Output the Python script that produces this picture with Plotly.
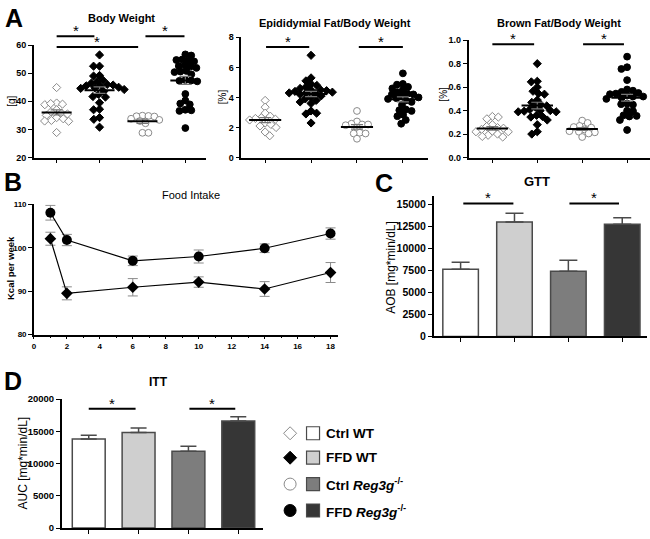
import numpy as np
import plotly.graph_objects as go

W, H = 650, 539
FONT = "Liberation Sans, Arial, sans-serif"

# ---------------- DATA ----------------
groups = ["Ctrl WT", "FFD WT", "Ctrl Reg3g-/-", "FFD Reg3g-/-"]

bw_ctrl_wt = [44.9, 39.4, 39.0, 38.8, 39.2, 37.0, 36.3, 35.8, 35.5, 35.0, 34.2, 33.8, 33.2, 32.9, 33.0, 28.9]
bw_ffd_wt = [56.5, 52.5, 52.5, 49.2, 49.0, 47.5, 47.0, 46.5, 46.0, 45.8, 45.5, 45.3, 45.0, 44.8, 44.6, 44.2,
             43.5, 42.5, 41.7, 41.5, 39.5, 37.2, 37.0, 34.2, 33.6, 30.8]
bw_ctrl_reg = [34.9, 34.8, 34.7, 34.6, 33.8, 33.4, 33.0, 32.2, 28.8, 28.8]
bw_ffd_reg = [56.7, 56.3, 54.9, 54.7, 54.5, 54.2, 52.8, 52.6, 52.4, 51.9, 50.8, 50.6, 50.4, 49.6, 47.6, 47.4,
              47.3, 47.1, 42.6, 40.3, 39.2, 38.9, 37.0, 36.6, 36.8, 30.5]

ep_ctrl_wt = [3.8, 3.35, 2.95, 2.75, 2.65, 2.6, 2.55, 2.5, 2.3, 2.2, 2.1, 2.0, 1.7, 1.45]
ep_ffd_wt = [6.8, 5.3, 5.1, 4.9, 4.8, 4.7, 4.6, 4.5, 4.5, 4.45, 4.4, 4.35, 4.3, 4.3, 4.25, 4.2, 4.1, 4.0,
             3.9, 3.8, 3.7, 3.6, 3.1, 2.95, 2.9, 2.3]
ep_ctrl_reg = [3.1, 2.4, 2.25, 2.2, 2.2, 2.15, 2.0, 1.65, 1.6, 1.6, 1.25]
ep_ffd_reg = [5.6, 4.9, 4.85, 4.7, 4.6, 4.5, 4.35, 4.25, 4.2, 4.2, 4.1, 4.0, 3.95, 3.9, 3.8, 3.7, 3.5,
              3.2, 3.15, 3.1, 2.85, 2.75, 2.5, 2.25]

br_ctrl_wt = [0.35, 0.345, 0.33, 0.28, 0.265, 0.255, 0.25, 0.24, 0.225, 0.22, 0.22, 0.2, 0.19, 0.18, 0.175]
br_ffd_wt = [0.8, 0.65, 0.645, 0.6, 0.565, 0.545, 0.54, 0.49, 0.47, 0.45, 0.44, 0.43, 0.41, 0.4, 0.4,
             0.395, 0.39, 0.39, 0.36, 0.35, 0.345, 0.32, 0.28, 0.22, 0.2]
br_ctrl_reg = [0.315, 0.295, 0.27, 0.26, 0.255, 0.24, 0.225, 0.22, 0.215, 0.205, 0.175]
br_ffd_reg = [0.86, 0.77, 0.755, 0.66, 0.58, 0.57, 0.56, 0.55, 0.545, 0.54, 0.53, 0.52, 0.52, 0.51, 0.5,
              0.46, 0.455, 0.45, 0.4, 0.395, 0.36, 0.355, 0.35, 0.32, 0.235]

weeks = [1, 2, 6, 10, 14, 18]
food_ffd_wt = [102.1, 89.5, 90.9, 92.1, 90.5, 94.3]
food_ffd_wt_err = [1.5, 1.5, 2.0, 1.2, 1.7, 2.3]
food_ffd_reg = [108.1, 101.8, 97.0, 98.0, 99.9, 103.3]
food_ffd_reg_err = [1.7, 1.3, 1.1, 1.5, 1.0, 1.3]

gtt_mean = [7650, 13000, 7400, 12750]
gtt_sem = [780, 1000, 1270, 730]
itt_mean = [13800, 14800, 11900, 16600]
itt_sem = [600, 700, 800, 650]

bar_colors = ["#ffffff", "#cfcfcf", "#7d7d7d", "#363636"]

# ---------------- LAYOUT HELPERS ----------------
def px(x):
    return x / W


def py(y):
    return 1 - y / H


panels = {
    "1": dict(xd=(32, 205), yd=(40, 155), xr=[-0.53, 3.49], yr=[20, 60]),
    "2": dict(xd=(240, 427), yd=(32, 155), xr=[-0.52, 3.54], yr=[0, 8]),
    "3": dict(xd=(468, 650), yd=(35, 155), xr=[-0.53, 3.51], yr=[0, 1]),
    "4": dict(xd=(32, 337), yd=(203, 336), xr=[0, 18.45], yr=[80, 110]),
    "5": dict(xd=(433, 647), yd=(194, 338), xr=[-0.5, 3.46], yr=[0, 16000]),
    "6": dict(xd=(60, 262), yd=(402, 534), xr=[-0.54, 3.5], yr=[0, 20000]),
}

base_axis = dict(showline=True, linecolor="black", linewidth=1.5, ticks="outside", ticklen=4,
                 tickwidth=1.3, tickcolor="black", showgrid=False, zeroline=False, fixedrange=True)

layout_axes = {}
for k, p in panels.items():
    xname = "xaxis" if k == "1" else "xaxis" + k
    yname = "yaxis" if k == "1" else "yaxis" + k
    layout_axes[xname] = dict(base_axis, domain=[px(p["xd"][0]), px(p["xd"][1])], range=p["xr"],
                              anchor="y" if k == "1" else "y" + k)
    layout_axes[yname] = dict(base_axis, domain=[py(p["yd"][1]), py(p["yd"][0])], range=p["yr"],
                              anchor="x" if k == "1" else "x" + k)

cat_x = dict(tickvals=[0, 1, 2, 3], showticklabels=False)
for k in ["1", "2", "3", "5", "6"]:
    xname = "xaxis" if k == "1" else "xaxis" + k
    layout_axes[xname].update(cat_x)

tf = lambda s: dict(family=FONT, size=s, color="black", weight="bold")
layout_axes["yaxis"].update(tickvals=[20, 30, 40, 50, 60], tickfont=tf(9))
layout_axes["yaxis2"].update(tickvals=[0, 2, 4, 6, 8], tickfont=tf(9))
layout_axes["yaxis3"].update(tickvals=[0, 0.2, 0.4, 0.6, 0.8, 1.0], tickformat=".1f", tickfont=tf(9))
layout_axes["yaxis4"].update(tickvals=[80, 90, 100, 110], tickfont=tf(8))
layout_axes["xaxis4"].update(tickvals=list(range(0, 19, 2)), tickfont=tf(8), ticklen=3,
                             minor=dict(dtick=1, ticklen=2, tickwidth=1, tickcolor="black", ticks="outside"))
layout_axes["yaxis5"].update(tickvals=list(range(0, 15001, 2500)), tickformat="d", tickfont=tf(10.5))
layout_axes["yaxis6"].update(tickvals=list(range(0, 20001, 5000)), tickformat="d", tickfont=tf(9.5))

layout_axes["xaxis7"] = dict(domain=[px(280), px(340)], range=[280, 340], visible=False, anchor="y7",
                             fixedrange=True)
layout_axes["yaxis7"] = dict(domain=[py(529), py(425)], range=[529, 425], visible=False, anchor="x7",
                             fixedrange=True)

fig = go.Figure()


def ax_ids(k):
    return ("x" if k == "1" else "x" + k), ("y" if k == "1" else "y" + k)


def swarm(vals, d, ky, kx):
    ys = np.asarray(vals, dtype=float) * ky
    order = np.argsort(-ys, kind="stable")
    placed = []
    xs = np.zeros(len(ys))
    for i in order:
        y = ys[i]
        ints = []
        for (qx, qy) in placed:
            dy = abs(qy - y)
            if dy < d:
                h = np.sqrt(d * d - dy * dy)
                ints.append((qx - h, qx + h))
        cands = [0.0] + [a for a, b in ints] + [b for a, b in ints]
        cands.sort(key=lambda c: (round(abs(c), 6), -c if len(placed) % 2 else c))
        for c in cands:
            if all(not (a + 1e-6 < c < b - 1e-6) for a, b in ints):
                xs[i] = c
                break
        placed.append((xs[i], y))
    return xs / kx


dot_sets = {
    "1": [bw_ctrl_wt, bw_ffd_wt, bw_ctrl_reg, bw_ffd_reg],
    "2": [ep_ctrl_wt, ep_ffd_wt, ep_ctrl_reg, ep_ffd_reg],
    "3": [br_ctrl_wt, br_ffd_wt, br_ctrl_reg, br_ffd_reg],
}
sym = ["diamond", "diamond", "circle", "circle"]
fillc = ["white", "black", "white", "black"]
linec = ["#8a8a8a", "black", "#8a8a8a", "black"]
msize = [6.3, 6.3, 6.8, 6.8]

for k, sets in dot_sets.items():
    p = panels[k]
    xa, ya = ax_ids(k)
    ky = (p["yd"][1] - p["yd"][0]) / (p["yr"][1] - p["yr"][0])
    kx = (p["xd"][1] - p["xd"][0]) / (p["xr"][1] - p["xr"][0])
    for gi, vals in enumerate(sets):
        offs = swarm(vals, 6.0, ky, kx)
        fig.add_trace(go.Scatter(x=gi + offs, y=vals, mode="markers", xaxis=xa, yaxis=ya, showlegend=False,
                                 marker=dict(symbol=sym[gi], size=msize[gi], color=fillc[gi],
                                             line=dict(color=linec[gi], width=1)), hoverinfo="skip"))
    for gi, vals in enumerate(sets):
        m = float(np.mean(vals))
        sem = float(np.std(vals, ddof=1) / np.sqrt(len(vals)))
        fig.add_trace(go.Scatter(x=[gi], y=[m], mode="markers", xaxis=xa, yaxis=ya, showlegend=False,
                                 marker=dict(size=1, color="rgba(0,0,0,0)"),
                                 error_y=dict(type="data", array=[sem], color="#777777", thickness=1.2, width=6),
                                 hoverinfo="skip"))
        fig.add_trace(go.Scatter(x=[gi - 0.35, gi + 0.35], y=[m, m], mode="lines", xaxis=xa, yaxis=ya,
                                 showlegend=False, line=dict(color="black", width=2), hoverinfo="skip"))

# ---- B: food intake ----
fig.add_trace(go.Scatter(x=weeks, y=food_ffd_reg, mode="lines+markers", xaxis="x4", yaxis="y4", showlegend=False,
                         line=dict(color="black", width=1.2), marker=dict(symbol="circle", size=10, color="black"),
                         error_y=dict(type="data", array=food_ffd_reg_err, color="#8a8a8a", thickness=1, width=5)))
fig.add_trace(go.Scatter(x=weeks, y=food_ffd_wt, mode="lines+markers", xaxis="x4", yaxis="y4", showlegend=False,
                         line=dict(color="black", width=1.2), marker=dict(symbol="diamond", size=9, color="black"),
                         error_y=dict(type="data", array=food_ffd_wt_err, color="#8a8a8a", thickness=1, width=5)))

# ---- C, D: bars ----
for k, mean, sem, cap in [("5", gtt_mean, gtt_sem, 9), ("6", itt_mean, itt_sem, 8)]:
    xa, ya = ax_ids(k)
    fig.add_trace(go.Bar(x=[0, 1, 2, 3], y=mean, xaxis=xa, yaxis=ya, width=0.66, showlegend=False,
                         marker=dict(color=bar_colors, line=dict(color="#4a4a4a", width=1.5)),
                         error_y=dict(type="data", array=sem, arrayminus=[0] * 4, symmetric=False,
                                      color="#4a4a4a", thickness=1.5, width=cap)))

# ---- legend ----
leg_rows = [437, 462, 489, 516]
leg_text = ["<b>Ctrl WT</b>", "<b>FFD WT</b>", "<b>Ctrl <i>Reg3g</i><sup>-/-</sup></b>",
            "<b>FFD <i>Reg3g</i><sup>-/-</sup></b>"]
leg_sym = [("diamond", "white", "#8a8a8a", 10), ("diamond", "black", "black", 10),
           ("circle", "white", "#8a8a8a", 12), ("circle", "black", "black", 12)]
for r, yy in enumerate(leg_rows):
    s, fc, lc, sz = leg_sym[r]
    fig.add_trace(go.Scatter(x=[289], y=[yy], mode="markers", xaxis="x7", yaxis="y7", showlegend=False,
                             marker=dict(symbol=s, size=sz, color=fc, line=dict(color=lc, width=1))))
    fig.add_trace(go.Scatter(x=[312], y=[yy], mode="markers", xaxis="x7", yaxis="y7", showlegend=False,
                             marker=dict(symbol="square", size=13, color=bar_colors[r],
                                         line=dict(color="#4a4a4a", width=1.2))))

annotations = []


def text(x, y, s, size, bold=False, angle=0, anchor="center"):
    annotations.append(dict(x=px(x), y=py(y), xref="paper", yref="paper", text=s, showarrow=False,
                            textangle=angle, xanchor=anchor, yanchor="middle", borderpad=0,
                            font=dict(family=FONT, size=size, color="black", weight="bold" if bold else "normal")))


for r, yy in enumerate(leg_rows):
    text(324, yy, leg_text[r], 13.5, anchor="left")

text(12, 12, "<b>A</b>", 25)
text(11, 180, "<b>B</b>", 25)
text(383, 181, "<b>C</b>", 25)
text(11, 384, "<b>D</b>", 25)

text(120, 12, "<b>Body Weight</b>", 11)
text(334, 17, "<b>Epididymial Fat/Body Weight</b>", 11)
text(559, 17, "<b>Brown Fat/Body Weight</b>", 11)
text(190, 193, "Food Intake", 11)
text(537, 180, "<b>GTT</b>", 13)
text(157, 385, "<b>ITT</b>", 12)

text(10, 97, "[g]", 10, angle=-90)
text(222, 93, "[%]", 10, angle=-90)
text(443, 90, "[%]", 10, angle=-90)
text(8, 268, "<b>Kcal per week</b>", 9.5, angle=-90)
text(390, 267, "AOB [mg*min/dL]", 12, angle=-90)
text(21, 467, "AUC [mg*min/dL]", 12, angle=-90)

sig_bars = [("1", 0.0, 0.88, 31), ("1", 0.0, 1.9, 42), ("1", 2.07, 2.98, 31),
            ("2", 0.02, 0.96, 42), ("2", 2.04, 3.0, 42),
            ("3", 0.0, 0.93, 39), ("3", 2.02, 2.93, 39),
            ("5", 0.05, 0.98, 202), ("5", 2.02, 2.94, 202),
            ("6", 0.0, 0.94, 412), ("6", 2.02, 2.94, 412)]
shapes = []
for k, x0, x1, yy in sig_bars:
    xa, _ = ax_ids(k)
    shapes.append(dict(type="line", xref=xa, yref="paper", x0=x0, x1=x1, y0=py(yy), y1=py(yy),
                       line=dict(color="black", width=2)))
    annotations.append(dict(x=(x0 + x1) / 2, y=py(yy + 4.0), xref=xa, yref="paper", text="*", showarrow=False,
                            xanchor="center", yanchor="bottom", borderpad=0,
                            font=dict(family=FONT, size=15, color="black")))

fig.update_layout(width=W, height=H, margin=dict(l=0, r=0, t=0, b=0, pad=0), paper_bgcolor="white",
                  plot_bgcolor="white", showlegend=False, annotations=annotations, shapes=shapes, **layout_axes)

fig.write_html("out.html", config={"displayModeBar": False},
               post_script="document.body.style.margin='0px';document.body.style.padding='0px';")
